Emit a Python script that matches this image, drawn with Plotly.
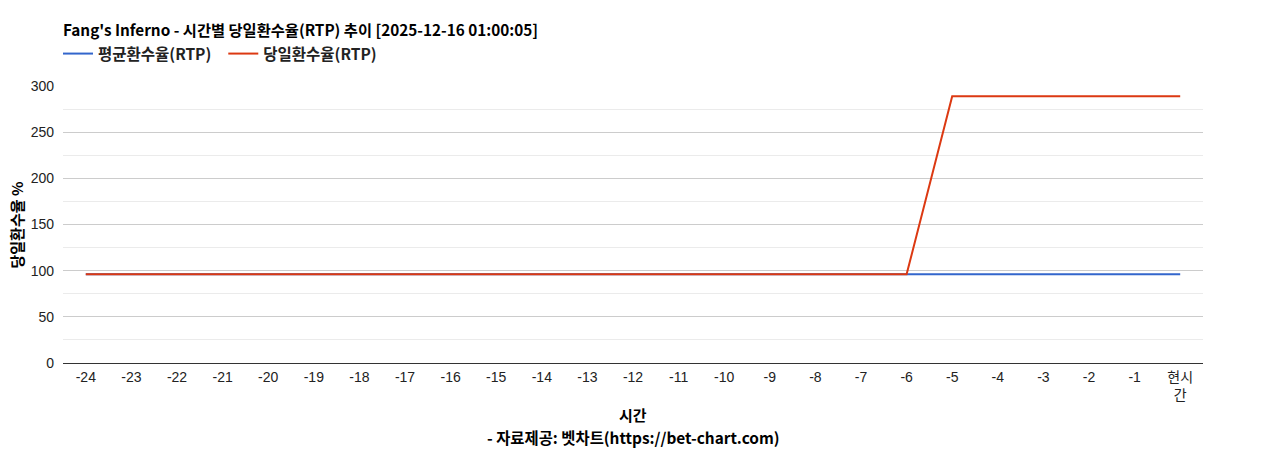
import plotly.graph_objects as go

HOURS = [str(h) for h in range(-24, 0)] + ["현시간"]
HOUR_LABELS = [str(h) for h in range(-24, 0)] + ["현시<br>간"]
AVG_RTP = [96] * 25
DAY_RTP = [96] * 19 + [289] * 6

KR_FONT = "Noto Sans CJK KR, Liberation Sans, sans-serif"
TICK_FONT = "Liberation Sans, Arial, Noto Sans CJK KR, sans-serif"

# page has 8px body margin, so the figure is a bit smaller than the window
W, H = 1260, 442
ML, MR, MT, MB = 55, 65, 78, 87
PW, PH = W - ML - MR, H - MT - MB

fig = go.Figure()
fig.add_trace(go.Scatter(x=HOURS, y=AVG_RTP, mode="lines", name="<b>평균환수율(RTP)</b>\u00a0\u00a0",
                         line=dict(color="#3366cc", width=2)))
fig.add_trace(go.Scatter(x=HOURS, y=DAY_RTP, mode="lines", name="<b>당일환수율(RTP)</b>",
                         line=dict(color="#dc3912", width=2)))

fig.update_layout(
    width=W,
    height=H,
    margin=dict(l=ML, r=MR, t=MT, b=MB, autoexpand=False),
    paper_bgcolor="white",
    plot_bgcolor="white",
    font=dict(family=TICK_FONT, size=14, color="#222"),
    title=dict(
        text="<b>Fang's Inferno - 시간별 당일환수율(RTP) 추이 [2025-12-16 01:00:05]</b>",
        x=ML / W, xanchor="left", y=1 - 23 / H, yanchor="middle",
        font=dict(family=KR_FONT, size=15.3, color="#000"),
    ),
    legend=dict(
        orientation="h", x=-5 / PW, xanchor="left",
        y=1 + 32 / PH, yanchor="middle",
        font=dict(family=KR_FONT, size=15.5, color="#222"),
        traceorder="normal",
    ),
    showlegend=True,
    annotations=[
        dict(text="<b>시간</b>", xref="paper", yref="paper", x=0.5, y=-51 / PH,
             xanchor="center", yanchor="middle", showarrow=False,
             font=dict(family=KR_FONT, size=15, color="#000")),
        dict(text="<b>- 자료제공: 벳차트(https://bet-chart.com)</b>", xref="paper", yref="paper",
             x=0.5, y=-74 / PH, xanchor="center", yanchor="middle", showarrow=False,
             font=dict(family=KR_FONT, size=15.4, color="#000")),
        dict(text="<b>당일환수율 %</b>", xref="paper", yref="paper", x=-(63 - 16) / PW, y=0.5,
             xanchor="center", yanchor="middle", textangle=-90, showarrow=False,
             font=dict(family=KR_FONT, size=15, color="#000")),
    ],
)

fig.update_xaxes(
    type="category",
    tickmode="array", tickvals=HOURS, ticktext=HOUR_LABELS,
    range=[-0.5, 24.5],
    showgrid=False,
    showline=False,
    ticks="", ticklen=0,
    ticklabelstandoff=4,
    automargin=False,
    tickfont=dict(family=TICK_FONT, size=14, color="#222"),
)

fig.update_yaxes(
    range=[0, 300],
    tickmode="array", tickvals=[0, 50, 100, 150, 200, 250, 300],
    showgrid=True, gridcolor="#cccccc", gridwidth=1,
    minor=dict(tickmode="array", tickvals=[25, 75, 125, 175, 225, 275], ticks="",
               showgrid=True, gridcolor="#ebebeb", gridwidth=1),
    zeroline=True, zerolinecolor="#333333", zerolinewidth=1,
    ticks="", ticklen=0,
    ticklabelstandoff=8,
    automargin=False,
    tickfont=dict(family=TICK_FONT, size=14, color="#222"),
)

fig.write_html("out.html")
